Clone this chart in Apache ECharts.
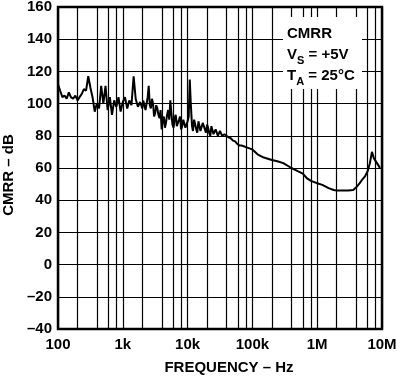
<!DOCTYPE html>
<html>
<head>
<meta charset="utf-8">
<script src="https://cdn.jsdelivr.net/npm/echarts@6/dist/echarts.min.js"></script>
<style>
html,body{margin:0;padding:0;background:#fff;}
#chart{width:397px;height:381px;}
</style>
</head>
<body>
<div id="chart"></div>
<script>
// Frequency points (Hz)
var freq = [
  100,108,117,126,136,147,158,171,185,200,215,233,251,271,293,316,341,369,398,430,464,501,541,584,631,681,736,794,858,926,
  1000,1080,1170,1260,1360,1470,1580,1710,1850,
  2000,2070,2150,2240,2330,2420,2510,2610,2710,2820,2930,3040,3160,3280,3410,3550,3690,3830,3980,4140,4300,4470,4640,4820,5010,5210,5410,5620,5840,6070,6310,6560,6810,7080,7360,7640,7940,8250,8580,8910,9260,9620,
  10000,10400,10800,11200,11700,12100,12600,13100,13600,14100,14700,15200,15800,16400,17100,17800,18500,19200,20000,20700,21500,22400,23300,
  25100,27100,29300,31600,34100,36900,39800,43000,46400,50100,54100,58400,63100,68100,73600,79400,85800,92600,
  100000,120000,150000,200000,250000,300000,400000,500000,600000,700000,800000,
  1000000,1200000,1500000,1800000,2000000,3000000,3600000,4000000,4500000,5000000,5500000,6000000,6500000,7000000,7500000,8000000,9000000,9300000
];
// CMRR values (dB)
var cmrr = [
  112,108,104,105,103,107,104,103,105,102,104,106,109,108,117,110,104,95,100,97,111,100,111,96,104,93,102,98,104,95,
  101,104,97,102,99,117,103,98,101,
  97,102,103,96,100,104,111,99,97,103,100,92,94,99,97,93,91,96,84,90,92,85,88,93,96,90,102,94,87,85,91,93,86,88,90,92,84,86,90,91,85,84,
  89,92,115,100,86,83,90,87,84,82,89,88,83,82,88,86,84,82,87,85,82,80,86,
  81,84,80,83,80,81,80,79,78.5,77,76.5,75,74,74,73.5,73,72.5,72,
  71.5,68.5,66.5,65,64,63,60,58,56.5,53.5,52,
  50.5,49.5,47.5,46.3,46,46,46.3,48,50.5,53,55,58,63,70,66,65,61,60
];
// Axis ticks
var xTickValues = [100,1000,10000,100000,1000000,10000000];
var xTickLabels = ['100','1k','10k','100k','1M','10M'];
var xMinorGrid = [200,400,600,800,2000,4000,6000,8000,20000,40000,60000,80000,200000,400000,600000,800000,2000000,4000000,6000000,8000000];
var yTicks = [-40,-20,0,20,40,60,80,100,120,140,160];

var FONT = '"Liberation Sans", Arial, Helvetica, sans-serif';
var chart = echarts.init(document.getElementById('chart'), null, {renderer:'canvas'});
var data = freq.map(function(f,i){return [f, cmrr[i]];});

chart.setOption({
  animation:false,
  backgroundColor:'#fff',
  grid:{left:58, right:15, top:7, bottom:52, containLabel:false, outerBoundsMode:'none',
        show:true, borderColor:'#000', borderWidth:2.5, backgroundColor:'transparent'},
  xAxis:{
    type:'log', logBase:10, min:xTickValues[0], max:xTickValues[xTickValues.length-1],
    axisLine:{show:false}, axisTick:{show:false},
    splitLine:{show:true, lineStyle:{color:'#000', width:1.2}},
    axisLabel:{margin:8, color:'#000', fontFamily:FONT, fontWeight:'bold', fontSize:15,
      formatter:function(v){var k=xTickValues.indexOf(Math.round(v)); return k>=0?xTickLabels[k]:'';}},
    name:'FREQUENCY – Hz', nameLocation:'middle', nameGap:31,
    nameTextStyle:{color:'#000', fontFamily:FONT, fontWeight:'bold', fontSize:15, padding:[0,0,0,18]}
  },
  yAxis:{
    type:'value', min:yTicks[0], max:yTicks[yTicks.length-1], interval:20,
    axisLine:{show:false}, axisTick:{show:false},
    splitLine:{show:true, lineStyle:{color:'#000', width:1.2}},
    axisLabel:{margin:6, color:'#000', fontFamily:FONT, fontWeight:'bold', fontSize:15,
      formatter:function(v){return v<0?'–'+Math.abs(v):String(v);}},
    name:'CMRR – dB', nameLocation:'middle', nameGap:37, nameRotate:90,
    nameTextStyle:{color:'#000', fontFamily:FONT, fontWeight:'bold', fontSize:15, padding:[0,14,0,0]}
  },
  series:[{
    type:'line', data:data, symbol:'none', smooth:false,
    lineStyle:{color:'#000', width:2},
    z:3,
    markLine:{
      silent:true, symbol:['none','none'], label:{show:false},
      lineStyle:{color:'#000', width:1.2, type:'solid'},
      z:2,
      data: xMinorGrid.map(function(v){return {xAxis:v};})
    }
  }],
  graphic:[
    {type:'rect', z:100, shape:{x:283, y:17, width:79, height:72}, style:{fill:'#fff'}},
    {type:'text', z:101, left:287, top:26, style:{text:'CMRR', fill:'#000', font:'bold 15px '+FONT}},
    {type:'text', z:101, left:287, top:47, style:{
      text:'{a|V}{s|S}{a| = +5V}', fill:'#000',
      rich:{a:{fontFamily:FONT, fontWeight:'bold', fontSize:15, fill:'#000', verticalAlign:'top'},
            s:{fontFamily:FONT, fontWeight:'bold', fontSize:11, fill:'#000', verticalAlign:'top', padding:[8,0,0,0]}}}},
    {type:'text', z:101, left:287, top:68, style:{
      text:'{a|T}{s|A}{a| = 25°C}', fill:'#000',
      rich:{a:{fontFamily:FONT, fontWeight:'bold', fontSize:15, fill:'#000', verticalAlign:'top'},
            s:{fontFamily:FONT, fontWeight:'bold', fontSize:11, fill:'#000', verticalAlign:'top', padding:[8,0,0,0]}}}}
  ]
});
</script>
</body>
</html>
